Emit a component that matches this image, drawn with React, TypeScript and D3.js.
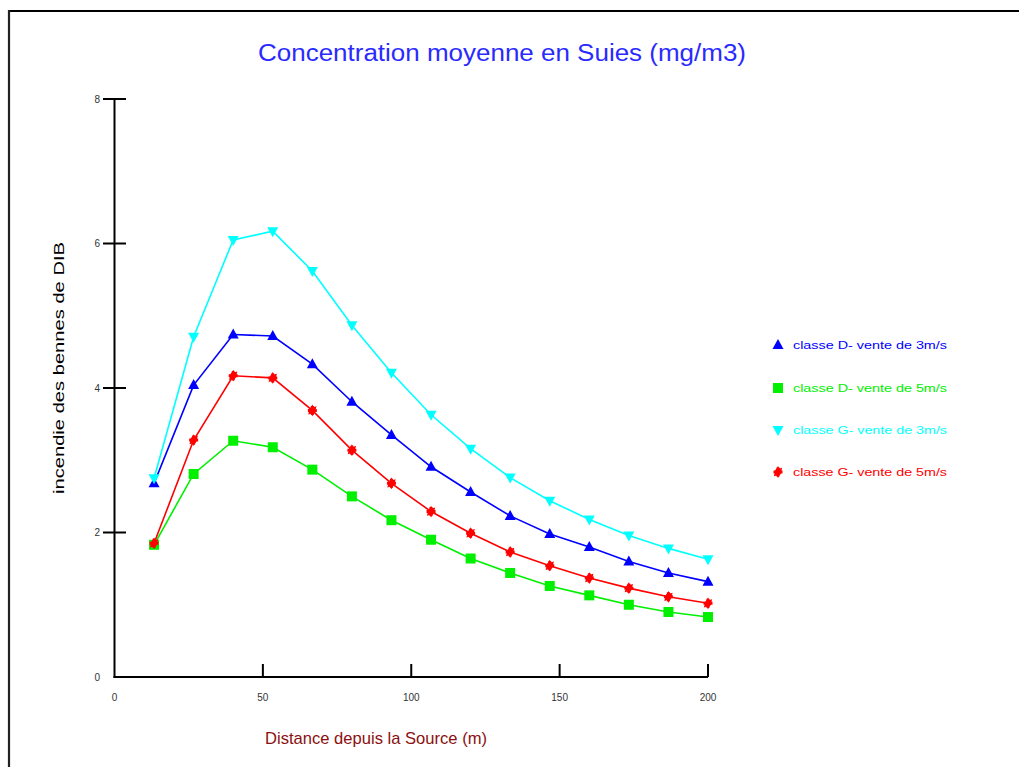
import React from "react";
import * as d3 from "d3";

const distances = [13.33, 26.67, 40, 53.33, 66.67, 80, 93.33, 106.67, 120, 133.33, 146.67, 160, 173.33, 186.67, 200];
const classeD3 = [2.68, 4.04, 4.74, 4.72, 4.33, 3.81, 3.35, 2.91, 2.56, 2.23, 1.98, 1.8, 1.6, 1.44, 1.32];
const classeD5 = [1.83, 2.81, 3.27, 3.18, 2.87, 2.5, 2.17, 1.9, 1.64, 1.44, 1.26, 1.13, 1.0, 0.9, 0.83];
const classeG3 = [2.75, 4.71, 6.05, 6.17, 5.62, 4.87, 4.21, 3.63, 3.16, 2.76, 2.44, 2.18, 1.96, 1.78, 1.63];
const classeG5 = [1.85, 3.28, 4.17, 4.14, 3.69, 3.14, 2.68, 2.29, 1.99, 1.73, 1.54, 1.37, 1.23, 1.11, 1.02];
const seriesNames = ["classe D- vente de 3m/s", "classe D- vente de 5m/s", "classe G- vente de 3m/s", "classe G- vente de 5m/s"];
const xTicks = [0, 50, 100, 150, 200];
const yTicks = [0, 2, 4, 6, 8];

const title = "Concentration moyenne en Suies (mg/m3)";
const xTitle = "Distance depuis la Source (m)";
const yTitle = "incendie des bennes de DIB";

const colors = ["#0000ff", "#00f000", "#00ffff", "#ff0000"];
const symbols = ["up", "square", "down", "star"];

function Marker({ kind, x, y, color }: { kind: string; x: number; y: number; color: string }) {
  if (kind === "square") {
    return <rect x={x - 5} y={y - 5} width={10} height={10} fill={color} />;
  }
  if (kind === "up") {
    return <path d={`M${x},${y - 6}L${x + 5.5},${y + 4}L${x - 5.5},${y + 4}Z`} fill={color} />;
  }
  if (kind === "down") {
    return <path d={`M${x},${y + 6}L${x + 5.5},${y - 4}L${x - 5.5},${y - 4}Z`} fill={color} />;
  }
  const cross = d3.symbol(d3.symbolCross, 45)();
  const diamond = d3.symbol(d3.symbolDiamond, 40)();
  return (
    <g transform={`translate(${x},${y})`}>
      <path d={cross || ""} fill={color} />
      <path d={diamond || ""} fill={color} transform="rotate(45)" />
      <path d={diamond || ""} fill={color} />
    </g>
  );
}

export default function App() {
  const x = d3.scaleLinear().domain([0, 200]).range([114.5, 708]);
  const y = d3.scaleLinear().domain([0, 8]).range([677, 99]);
  const data = [classeD3, classeD5, classeG3, classeG5];
  const line = d3
    .line<number>()
    .x((_, i) => x(distances[i]))
    .y((v) => y(v));

  const legendY = [345, 388, 430, 472];

  return (
    <svg width={1019} height={767} style={{ position: "absolute", left: 0, top: 0, background: "#fff" }}>
      <rect x={0} y={0} width={1019} height={767} fill="#fff" />
      <line x1={8} y1={11} x2={1019} y2={11} stroke="#000" strokeWidth={2.2} />
      <line x1={9} y1={10} x2={9} y2={767} stroke="#222" strokeWidth={2.2} />

      <text x={502} y={61} textAnchor="middle" fill="#2a2aff" fontFamily="Liberation Sans, Arial, sans-serif" fontSize={23} textLength={488} lengthAdjust="spacingAndGlyphs">
        {title}
      </text>

      <line x1={x(0)} y1={y(8)} x2={x(0)} y2={y(0) + 1} stroke="#000" strokeWidth={2} />
      <line x1={x(0) - 1} y1={y(0)} x2={x(200)} y2={y(0)} stroke="#000" strokeWidth={2} />
      {yTicks.map((t) => (
        <g key={"y" + t}>
          {t > 0 && <line x1={x(0) - 11.5} x2={x(0) + 11.5} y1={y(t)} y2={y(t)} stroke="#000" strokeWidth={2} />}
          <text x={100} y={y(t) + 3.5} textAnchor="end" fontSize={10} fill="#333" fontFamily="Liberation Sans, Arial, sans-serif">
            {t}
          </text>
        </g>
      ))}
      {xTicks.map((t) => (
        <g key={"x" + t}>
          {t > 0 && <line x1={x(t)} x2={x(t)} y1={y(0)} y2={y(0) - 13} stroke="#000" strokeWidth={2} />}
          <text x={x(t)} y={701} textAnchor="middle" fontSize={10} fill="#333" fontFamily="Liberation Sans, Arial, sans-serif">
            {t}
          </text>
        </g>
      ))}

      <text x={376} y={744} textAnchor="middle" fill="#8b1010" fontFamily="Liberation Sans, Arial, sans-serif" fontSize={17} textLength={222} lengthAdjust="spacingAndGlyphs">
        {xTitle}
      </text>
      <text
        transform={`translate(64,368) rotate(-90)`}
        textAnchor="middle"
        fill="#000"
        fontFamily="Liberation Sans, Arial, sans-serif"
        fontSize={15}
        textLength={252}
        lengthAdjust="spacingAndGlyphs"
      >
        {yTitle}
      </text>

      {data.map((vals, si) => (
        <g key={"s" + si}>
          <path d={line(vals) || ""} fill="none" stroke={colors[si]} strokeWidth={1.6} />
          {vals.map((v, i) => (
            <Marker key={i} kind={symbols[si]} x={x(distances[i])} y={y(v)} color={colors[si]} />
          ))}
        </g>
      ))}

      {seriesNames.map((n, si) => (
        <g key={"l" + si}>
          <Marker kind={symbols[si]} x={778} y={legendY[si]} color={colors[si]} />
          <text x={793} y={legendY[si] + 4} fill={colors[si]} fontSize={10} fontFamily="Liberation Sans, Arial, sans-serif" textLength={154} lengthAdjust="spacingAndGlyphs">
            {n}
          </text>
        </g>
      ))}
    </svg>
  );
}
